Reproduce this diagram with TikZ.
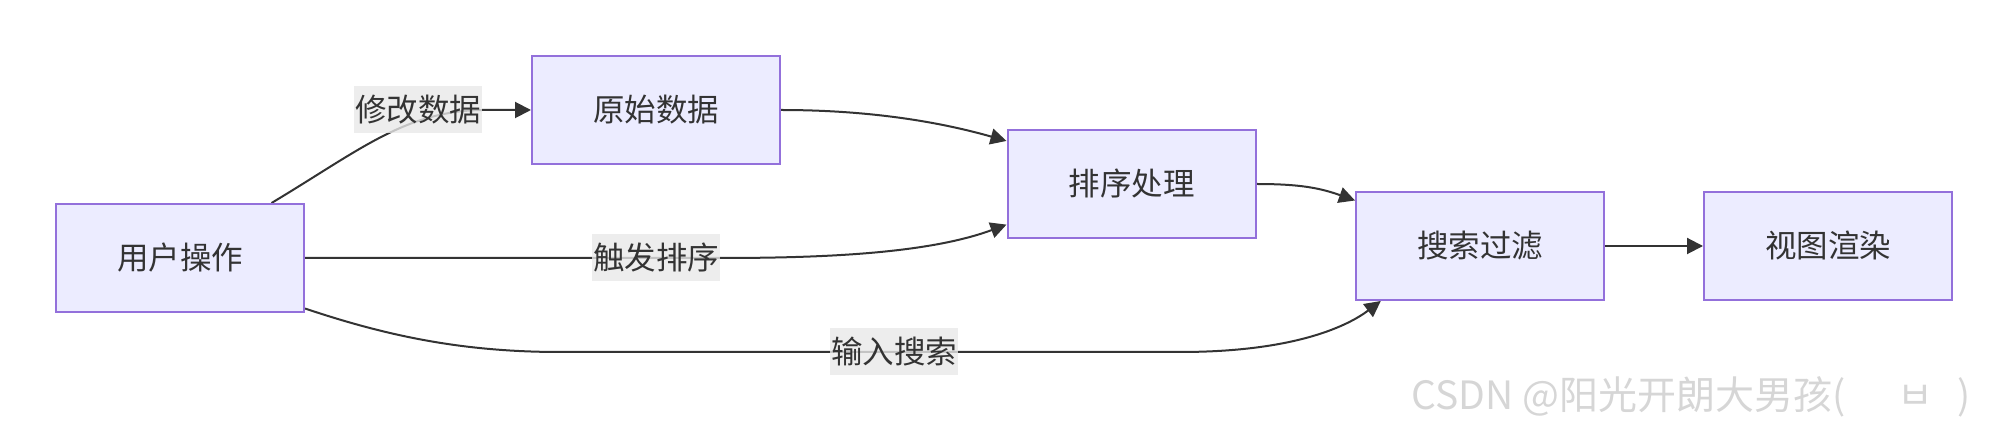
\documentclass[tikz,border=0pt]{standalone}
\usepackage{fontspec}
\newfontfamily\cjk{Noto Sans CJK SC}
\usetikzlibrary{arrows.meta,backgrounds}
\definecolor{boxfill}{HTML}{ECECFF}
\definecolor{boxline}{HTML}{9370DB}
\definecolor{ink}{HTML}{333333}
\definecolor{lblfill}{HTML}{E8E8E8}
\definecolor{wmgray}{HTML}{D6D6D6}
\begin{document}
\begin{tikzpicture}[x=0.5pt, y=-0.5pt, >={Triangle[length=8pt,width=8pt]},
    box/.style={draw=boxline, fill=boxfill, line width=1pt, minimum width=124pt,
        minimum height=54pt, inner sep=0pt, text=ink, font=\cjk\fontsize{15.75pt}{19pt}\selectfont},
    elabel/.style={fill=lblfill, fill opacity=0.8, text opacity=1, minimum width=64pt,
        minimum height=23.5pt, inner sep=0pt, text=ink, font=\cjk\fontsize{15.75pt}{19pt}\selectfont},
    edge/.style={draw=ink, line width=1pt, ->}]
\useasboundingbox (0,0) rectangle (2008,432);
\foreach \name/\x/\y/\txt in {user/180/258/用户操作, raw/656/110/原始数据,
    sort/1131.5/184/排序处理, filter/1480/246/搜索过滤, view/1828/246/视图渲染}
{
    \node[box] (\name) at (\x,\y) {\txt};
}
\node[elabel] (modify) at (418,110) {修改数据};
\node[elabel] (trigger) at (656,258) {触发排序};
\node[elabel] (input) at (894,352) {输入搜索};

% edges behind the labels
\begin{pgfonlayer}{background}
\draw[edge] (user.31.5) .. controls (360,150) and (405,111) .. (modify.east) -- (raw.west);
\draw[edge] (user.east) -- (trigger.east) .. controls (820,258) and (927,254) .. (sort.198);
\draw[edge] (user.338) .. controls (384,335) and (460,352) .. (560,352) -- (1180,352)
    .. controls (1290,352) and (1345,328) .. (filter.209);
\draw[edge] (raw.east) .. controls (870,110) and (940,122) .. (sort.161);
\draw[edge] (sort.east) .. controls (1300,184) and (1320,188) .. (filter.160);
\draw[edge] (filter.east) -- (view.west);
\end{pgfonlayer}

\node[text=wmgray, anchor=west, inner sep=0pt, font=\cjk\fontsize{19.5pt}{23pt}\selectfont]
    (watermark) at (1411,397) {CSDN @阳光开朗大男孩(\hspace{26pt}ㅂ\hspace{12pt})};
\end{tikzpicture}
\end{document}
